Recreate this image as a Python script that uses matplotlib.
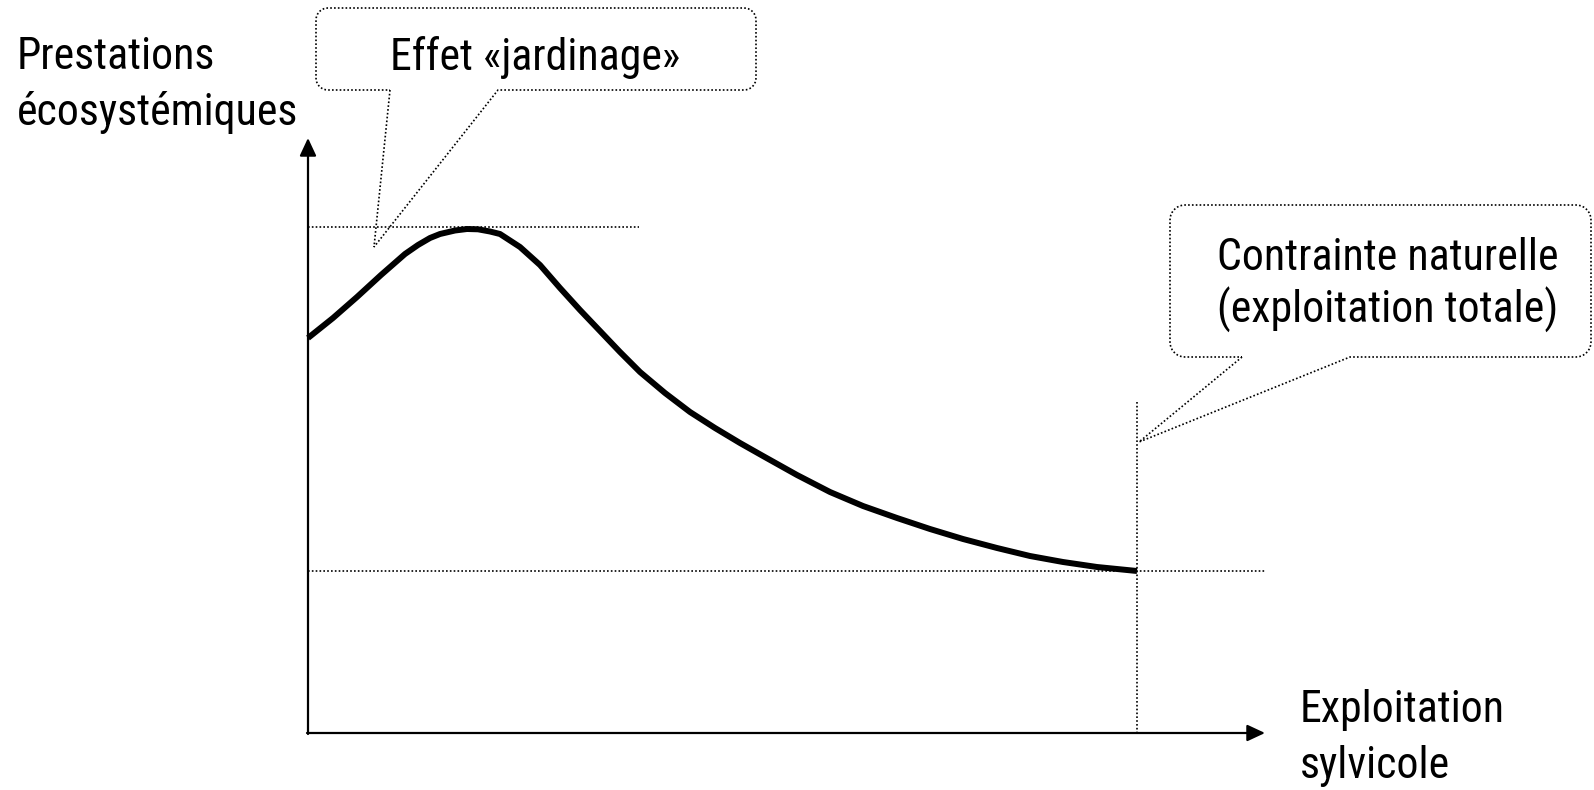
"""Schéma : prestations écosystémiques vs exploitation sylvicole."""
import matplotlib
matplotlib.use("Agg")
import matplotlib.pyplot as plt
from matplotlib import font_manager
from matplotlib.path import Path
from matplotlib.patches import PathPatch
import numpy as np

# police étroite type Arial Narrow si disponible
installed = {f.name for f in font_manager.fontManager.ttflist}
candidates = ["Liberation Sans Narrow", "Arial Narrow", "Roboto Condensed",
              "Archivo Narrow", "PT Sans Narrow", "Open Sans Condensed",
              "Liberation Sans"]
family = [c for c in candidates if c in installed][:1] + ["DejaVu Sans"]
plt.rcParams["font.family"] = family

# courbe (repère en pixels, y vers le bas)
curve_x = [308, 333, 357, 381, 405, 418, 430, 440, 455, 467, 478, 490, 500, 520,
           540, 560, 580, 600, 620, 640, 665, 690, 715, 740, 763, 797, 830, 863,
           897, 930, 963, 997, 1030, 1063, 1097, 1137]
curve_y = [338, 318, 297, 275, 254, 245, 238, 234, 230.5, 229, 229.3, 231.5, 234,
           247, 265, 288, 310, 331, 352, 372, 393, 412, 428, 443, 456, 475, 492,
           506, 518, 529, 539, 548, 556, 562, 567, 571]

# axes et repères
origin = (308, 733)
y_tip = 138
x_tip = 1265
peak_y = 227
peak_line_end = 639
floor_y = 571
limit_x = 1137
limit_top = 402

fig = plt.figure(figsize=(15.94, 7.90), dpi=100)
ax = fig.add_axes([0, 0, 1, 1])
ax.set_xlim(0, 1594)
ax.set_ylim(790, 0)
ax.axis("off")

dot = dict(color="black", lw=1.2, linestyle=(0, (1, 1.3)))

# lignes pointillées de référence
ax.plot([origin[0], peak_line_end], [peak_y, peak_y], **dot)
ax.plot([origin[0], x_tip], [floor_y, floor_y], **dot)
ax.plot([limit_x, limit_x], [limit_top, origin[1]], **dot)

# axes fléchés
arrow = dict(arrowstyle="-|>,head_length=0.9,head_width=0.42", lw=1.6,
             color="black", mutation_scale=12, shrinkA=0, shrinkB=0)
ax.annotate("", xy=(origin[0], y_tip), xytext=(origin[0], origin[1] + 1), arrowprops=arrow)
ax.annotate("", xy=(x_tip, origin[1]), xytext=(origin[0] - 1, origin[1]), arrowprops=arrow)

# courbe principale
ax.plot(curve_x, curve_y, color="black", lw=4.3, solid_capstyle="butt",
        solid_joinstyle="round")


def bulle(x0, x1, y0, y1, r, tail):
    """Bulle arrondie en pointillés avec pointe (tail = gauche, pointe, droite)."""
    pts = []

    def arc(cx, cy, a0, a1):
        for a in np.linspace(np.radians(a0), np.radians(a1), 10):
            pts.append((cx + r * np.cos(a), cy + r * np.sin(a)))

    (lx, _), tip, (rx, _) = tail
    pts.append((lx, y1))
    pts.append(tip)
    pts.append((rx, y1))
    arc(x1 - r, y1 - r, 90, 0)
    arc(x1 - r, y0 + r, 0, -90)
    arc(x0 + r, y0 + r, -90, -180)
    arc(x0 + r, y1 - r, 180, 90)
    pts.append((lx, y1))
    ax.add_patch(PathPatch(Path(pts), fill=False, edgecolor="black",
                           lw=1.2, linestyle=(0, (1, 1.3))))


bulle(316, 756, 8, 90, 12, [(390, 90), (374, 247), (498, 90)])
bulle(1170, 1591, 205, 357, 15, [(1242, 357), (1139, 442), (1350, 357)])

fs = 34
texts = [
    ax.text(535, 70, "Effet «jardinage»", ha="center"),
    ax.text(1388, 270, "Contrainte naturelle", ha="center"),
    ax.text(1388, 323, "(exploitation totale)", ha="center"),
    ax.text(17, 69, "Prestations", ha="left"),
    ax.text(17, 125, "écosystémiques", ha="left"),
    ax.text(1300, 722, "Exploitation", ha="left"),
    ax.text(1300, 778, "sylvicole", ha="left"),
]
for t in texts:
    t.set_fontsize(fs)
    t.set_va("baseline")

# ajuster la taille pour retrouver la largeur des textes de la figure d'origine
fig.canvas.draw()
r = fig.canvas.get_renderer()
target = {0: 294, 1: 340, 4: 280}
ratio = np.mean([w / texts[i].get_window_extent(r).width for i, w in target.items()])
for t in texts:
    t.set_fontsize(fs * ratio)

fig.savefig("out.png", dpi=100, facecolor="white")
